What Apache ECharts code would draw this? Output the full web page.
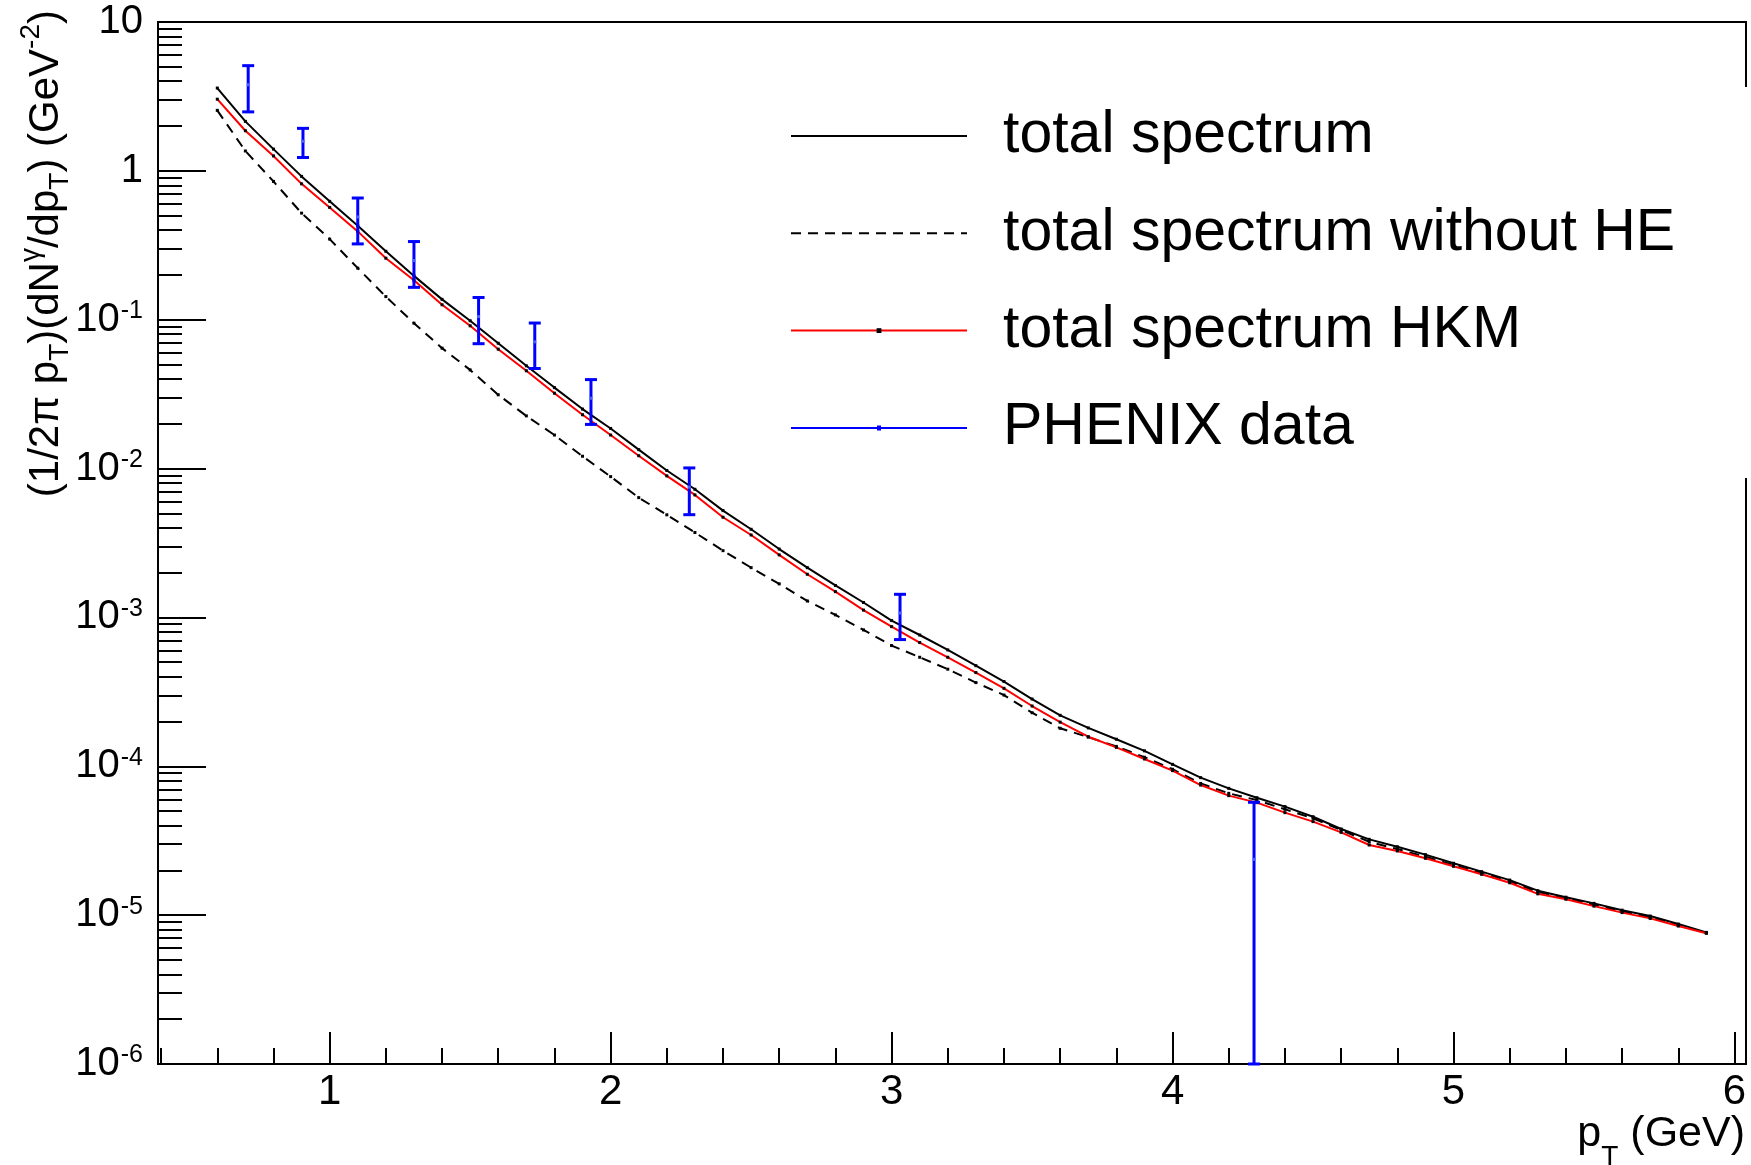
<!DOCTYPE html>
<html>
<head>
<meta charset="utf-8">
<title>Direct photon spectrum</title>
<script src="https://cdn.jsdelivr.net/npm/echarts@6/dist/echarts.min.js"></script>
<style>
  html, body { margin: 0; padding: 0; background: #fff; }
  #chart { width: 1751px; height: 1165px; }
</style>
</head>
<body>
<div id="chart"></div>
<script>
// Transverse momentum grid of the model curves (GeV)
const pT = [0.6, 0.7, 0.8, 0.9, 1.0, 1.1, 1.2, 1.3, 1.4, 1.5, 1.6, 1.7, 1.8, 1.9,
            2.0, 2.1, 2.2, 2.3, 2.4, 2.5, 2.6, 2.7, 2.8, 2.9, 3.0, 3.1, 3.2, 3.3,
            3.4, 3.5, 3.6, 3.7, 3.8, 3.9, 4.0, 4.1, 4.2, 4.3, 4.4, 4.5, 4.6, 4.7,
            4.8, 4.9, 5.0, 5.1, 5.2, 5.3, 5.4, 5.5, 5.6, 5.7, 5.8, 5.9];

// Model yields (GeV^-2)
const totalSpectrum = [3.60, 2.15, 1.40, 0.918, 0.624, 0.428, 0.288, 0.197, 0.137, 0.0984,
  0.0695, 0.0490, 0.0350, 0.0251, 0.0186, 0.0134, 0.00971, 0.00726, 0.00522, 0.00391,
  0.00288, 0.00216, 0.00164, 0.00126, 0.000953, 0.000762, 0.000605, 0.000474, 0.000371, 0.000283,
  0.000220, 0.000181, 0.000152, 0.000127, 0.000103, 8.39e-5, 7.11e-5, 6.15e-5, 5.36e-5, 4.58e-5,
  3.79e-5, 3.23e-5, 2.88e-5, 2.55e-5, 2.23e-5, 1.96e-5, 1.72e-5, 1.46e-5, 1.32e-5, 1.20e-5,
  1.08e-5, 9.86e-6, 8.71e-6, 7.66e-6];

const totalWithoutHE = [2.55, 1.36, 0.849, 0.520, 0.348, 0.222, 0.143, 0.0948, 0.0644, 0.0460,
  0.0313, 0.0226, 0.0168, 0.0121, 0.00883, 0.00638, 0.00489, 0.00372, 0.00281, 0.00216,
  0.00168, 0.00129, 0.00104, 0.000824, 0.000647, 0.000540, 0.000449, 0.000365, 0.000301, 0.000229,
  0.000180, 0.000157, 0.000136, 0.000115, 9.55e-5, 7.67e-5, 6.58e-5, 5.93e-5, 5.14e-5, 4.47e-5,
  3.73e-5, 3.11e-5, 2.78e-5, 2.47e-5, 2.17e-5, 1.92e-5, 1.69e-5, 1.43e-5, 1.30e-5, 1.17e-5,
  1.06e-5, 9.68e-6, 8.59e-6, 7.60e-6];

const totalHKM = [3.03, 1.86, 1.26, 0.818, 0.568, 0.392, 0.259, 0.184, 0.126, 0.0910,
  0.0634, 0.0454, 0.0321, 0.0230, 0.0168, 0.0122, 0.00893, 0.00665, 0.00471, 0.00358,
  0.00263, 0.00195, 0.00149, 0.00112, 0.000867, 0.000678, 0.000540, 0.000426, 0.000334, 0.000254,
  0.000198, 0.000158, 0.000134, 0.000112, 9.35e-5, 7.48e-5, 6.35e-5, 5.70e-5, 4.88e-5, 4.25e-5,
  3.60e-5, 2.96e-5, 2.70e-5, 2.41e-5, 2.13e-5, 1.88e-5, 1.65e-5, 1.39e-5, 1.28e-5, 1.15e-5,
  1.04e-5, 9.51e-6, 8.45e-6, 7.55e-6];

// PHENIX measurement: pT, yield, symmetric uncertainty
const phenixPT    = [0.71, 0.905, 1.10, 1.30, 1.53, 1.73, 1.93, 2.28, 3.03, 4.29];
const phenixYield = [3.79, 1.58, 0.49, 0.25, 0.105, 0.071, 0.0297, 0.0075, 0.00107, 2.37e-5];
const phenixError = [1.30, 0.35, 0.167, 0.085, 0.036, 0.024, 0.0099, 0.0026, 0.00036, 3.36e-5];

// Axis ticks and labels
const xMajorTicks = [1, 2, 3, 4, 5, 6];
const xMinorTicks = [0.4, 0.6, 0.8, 1.2, 1.4, 1.6, 1.8, 2.2, 2.4, 2.6, 2.8, 3.2, 3.4, 3.6, 3.8,
                     4.2, 4.4, 4.6, 4.8, 5.2, 5.4, 5.6, 5.8];
const yDecades = [1e-6, 1e-5, 1e-4, 1e-3, 1e-2, 1e-1, 1, 10];
const yDecadeLabels = ['{b|10}{s|-6}', '{b|10}{s|-5}', '{b|10}{s|-4}', '{b|10}{s|-3}',
                       '{b|10}{s|-2}', '{b|10}{s|-1}', '{b|1}', '{b|10}'];
const yMinorTicks = [];
yDecades.slice(0, -1).forEach(d => {
  for (let m = 2; m <= 9; m++) yMinorTicks.push(+(m * d).toPrecision(3));
});

const legendNames = ['total spectrum', 'total spectrum without HE', 'total spectrum HKM', 'PHENIX data'];

const FONT = '"Liberation Sans", Arial, Helvetica, sans-serif';
const X_MIN = 0.389, X_MAX = 6.041;
const Y_MIN = 1e-6, Y_MAX = 10;

const chart = echarts.init(document.getElementById('chart'), null, { renderer: 'canvas' });

const pairs = (xs, ys) => xs.map((x, i) => [x, ys[i]]);

const curveBase = {
  type: 'line',
  xAxisIndex: 0,
  yAxisIndex: 0,
  symbol: 'rect',
  symbolSize: 3,
  showSymbol: true,
  showAllSymbol: true,
  itemStyle: { color: '#000' },
  emphasis: { disabled: true },
  z: 3
};

const labelRich = {
  b: { fontFamily: FONT, fontSize: 40, lineHeight: 42, color: '#000' },
  s: { fontFamily: FONT, fontSize: 25, lineHeight: 25, color: '#000', verticalAlign: 'top', padding: [0, 0, 0, 1] }
};

const option = {
  animation: false,
  backgroundColor: '#fff',
  grid: {
    left: 158, right: 5, top: 22, bottom: 101,
    show: true, borderColor: '#000', borderWidth: 2, backgroundColor: 'transparent',
    containLabel: false
  },
  legend: {
    orient: 'vertical',
    left: 780, top: 87,
    padding: [15, 120, 16, 10],
    backgroundColor: '#fff',
    itemWidth: 176, itemHeight: 6, itemGap: 29.3,
    selectedMode: false,
    textStyle: { fontFamily: FONT, fontSize: 59, lineHeight: 60, color: '#000', padding: [8, 0, 0, 31] },
    data: [
      { name: legendNames[0], itemStyle: { opacity: 0 } },
      { name: legendNames[1], itemStyle: { opacity: 0 } },
      { name: legendNames[2] },
      { name: legendNames[3], icon: 'path://M0,2 L176,2 L176,4.2 L0,4.2 Z M86,0.5 L90,0.5 L90,5.5 L86,5.5 Z' }
    ]
  },
  xAxis: [
    {
      type: 'value', min: X_MIN, max: X_MAX, position: 'bottom',
      axisLine: { show: true, onZero: false, lineStyle: { color: '#000', width: 2 } },
      axisTick: { show: true, inside: true, length: 32, customValues: xMajorTicks, lineStyle: { color: '#000', width: 2 } },
      axisLabel: { show: true, customValues: xMajorTicks, margin: 7, fontFamily: FONT, fontSize: 42, color: '#000' },
      splitLine: { show: false }
    },
    {
      type: 'value', min: X_MIN, max: X_MAX, position: 'bottom',
      axisLine: { show: false },
      axisTick: { show: true, inside: true, length: 16, customValues: xMinorTicks, lineStyle: { color: '#000', width: 2 } },
      axisLabel: { show: false },
      splitLine: { show: false }
    }
  ],
  yAxis: [
    {
      type: 'log', logBase: 10, min: Y_MIN, max: Y_MAX, position: 'left',
      axisLine: { show: true, onZero: false, lineStyle: { color: '#000', width: 2 } },
      axisTick: { show: true, inside: true, length: 48, customValues: yDecades, lineStyle: { color: '#000', width: 2 } },
      axisLabel: {
        show: true, customValues: yDecades, margin: 15,
        formatter: v => yDecadeLabels[Math.round(Math.log10(v)) + 6],
        rich: labelRich
      },
      splitLine: { show: false }
    },
    {
      type: 'log', logBase: 10, min: Y_MIN, max: Y_MAX, position: 'left',
      axisLine: { show: false },
      axisTick: { show: true, inside: true, length: 24, customValues: yMinorTicks, lineStyle: { color: '#000', width: 2 } },
      axisLabel: { show: false },
      splitLine: { show: false }
    }
  ],
  series: [
    Object.assign({}, curveBase, {
      name: legendNames[0],
      data: pairs(pT, totalSpectrum),
      lineStyle: { color: '#000', width: 2 }
    }),
    Object.assign({}, curveBase, {
      name: legendNames[1],
      data: pairs(pT, totalWithoutHE),
      lineStyle: { color: '#000', width: 2, type: [10, 7] }
    }),
    Object.assign({}, curveBase, {
      name: legendNames[2],
      data: pairs(pT, totalHKM),
      lineStyle: { color: '#ff0000', width: 2 }
    }),
    {
      name: legendNames[3],
      type: 'custom',
      xAxisIndex: 0,
      yAxisIndex: 0,
      itemStyle: { color: '#0000ff' },
      z: 5,
      data: phenixPT.map((x, i) => [x, phenixYield[i], phenixError[i]]),
      renderItem: function (params, api) {
        const x = api.value(0), y = api.value(1), e = api.value(2);
        const cs = params.coordSys;
        const bottom = cs.y + cs.height;
        const top = api.coord([x, y + e]);
        const mid = api.coord([x, y]);
        const lo = y - e;
        let yb = lo > 0 ? api.coord([x, lo])[1] : bottom;
        if (!isFinite(yb) || yb > bottom) yb = bottom;
        const px = top[0];
        const cap = 6;
        const stroke = { stroke: '#0000ff', lineWidth: 3 };
        return {
          type: 'group',
          children: [
            { type: 'line', shape: { x1: px, y1: top[1], x2: px, y2: yb }, style: stroke },
            { type: 'line', shape: { x1: px - cap, y1: top[1], x2: px + cap, y2: top[1] }, style: stroke },
            { type: 'line', shape: { x1: px - cap, y1: yb, x2: px + cap, y2: yb }, style: stroke },
            { type: 'rect', shape: { x: px - 1.5, y: mid[1] - 1.5, width: 3, height: 3 }, style: { fill: '#4a63ff' } }
          ]
        };
      }
    }
  ],
  graphic: [
    {
      // vertical axis title, reading bottom to top and ending near the top of the frame
      type: 'text',
      x: 38, y: 10,
      rotation: Math.PI / 2,
      style: {
        text: '{m|(1/2π p}{sub|T}{m|)(dN}{sup|γ}{m|/dp}{sub|T}{m|) (GeV}{sup|-2}{m|)}',
        align: 'right', verticalAlign: 'middle',
        rich: {
          m: { fontFamily: FONT, fontSize: 42, lineHeight: 42, fill: '#000', verticalAlign: 'top', padding: [8, 0, 0, 0] },
          sub: { fontFamily: FONT, fontSize: 28, lineHeight: 28, fill: '#000', verticalAlign: 'top', padding: [29, 0, 0, 0] },
          sup: { fontFamily: FONT, fontSize: 28, lineHeight: 28, fill: '#000', verticalAlign: 'top', padding: [0, 0, 0, 0] }
        }
      }
    },
    {
      type: 'text',
      x: 1745, y: 1136,
      style: {
        text: '{m|p}{sub|T}{m| (GeV)}',
        align: 'right', verticalAlign: 'middle',
        rich: {
          m: { fontFamily: FONT, fontSize: 43, lineHeight: 46, fill: '#000', verticalAlign: 'top' },
          sub: { fontFamily: FONT, fontSize: 28, lineHeight: 28, fill: '#000', verticalAlign: 'top', padding: [30, 0, 0, 0] }
        }
      }
    }
  ]
};

chart.setOption(option);
</script>
</body>
</html>
